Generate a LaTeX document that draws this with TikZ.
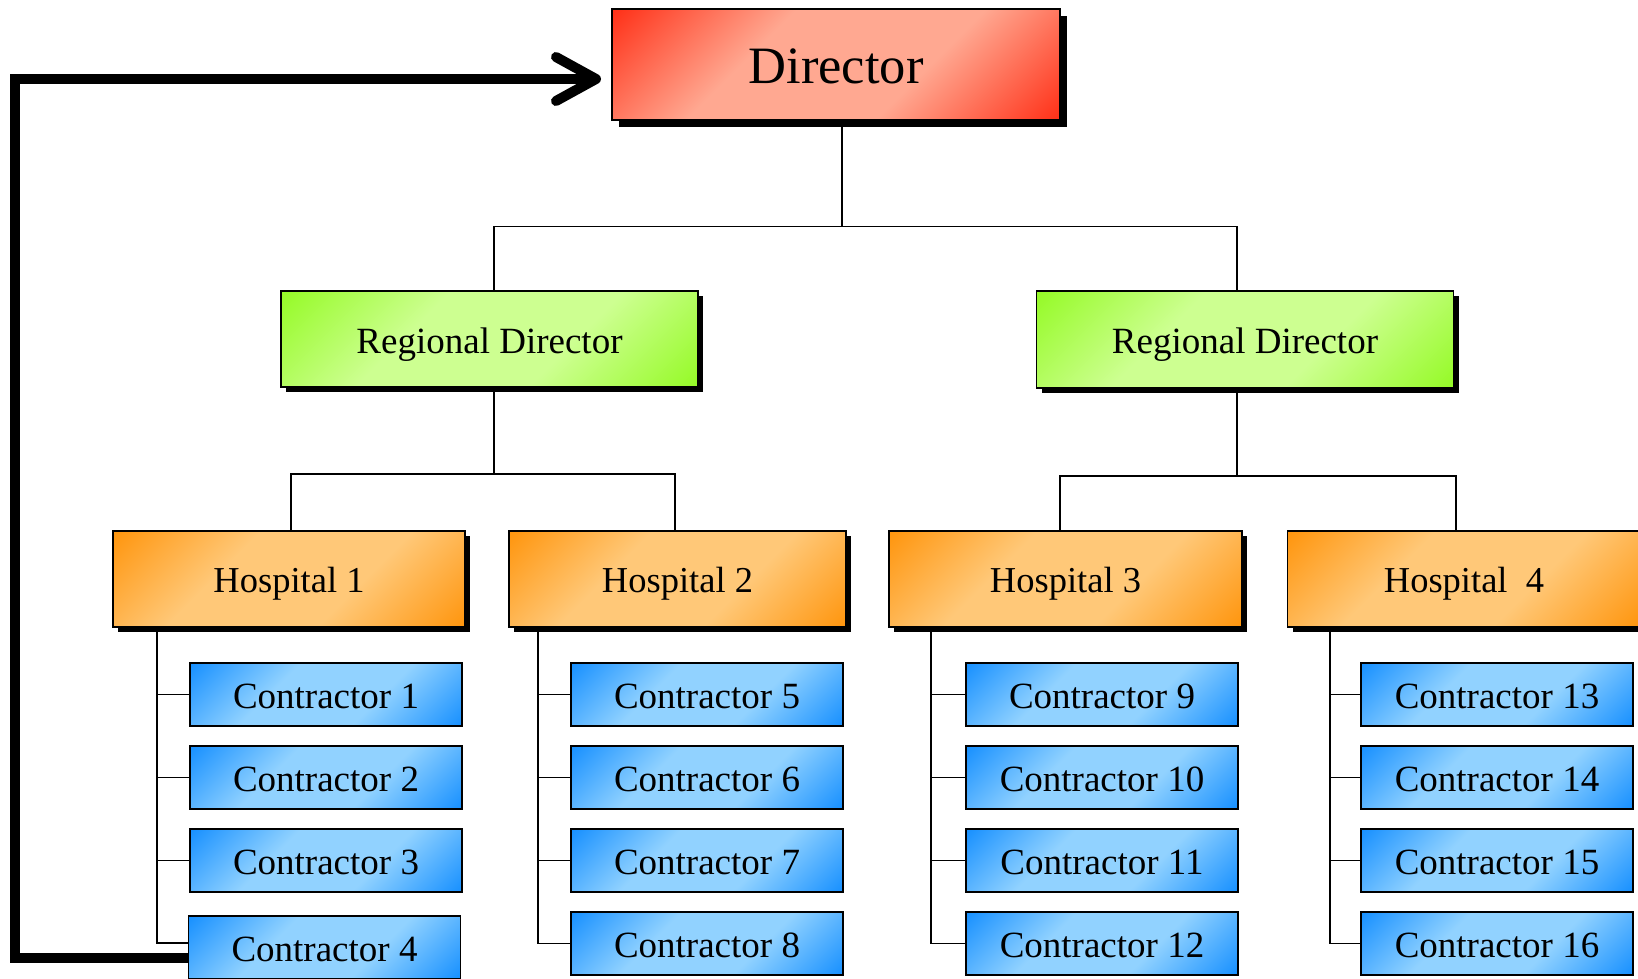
\documentclass[tikz,border=0pt]{standalone}
\usepackage{fontspec}
\setmainfont{Liberation Serif}
\usetikzlibrary{shadows,arrows.meta,calc}
\definecolor{redC}{RGB}{255,50,25}
\definecolor{redL}{RGB}{255,168,145}
\definecolor{grnC}{RGB}{150,250,40}
\definecolor{grnL}{RGB}{205,255,145}
\definecolor{orgC}{RGB}{255,150,15}
\definecolor{orgL}{RGB}{255,200,120}
\definecolor{bluC}{RGB}{25,145,255}
\definecolor{bluL}{RGB}{145,210,255}
\pgfdeclareverticalshading{redsh}{100bp}{color(0bp)=(redC); color(15bp)=(redC); color(38bp)=(redL); color(62bp)=(redL); color(85bp)=(redC); color(100bp)=(redC)}
\pgfdeclareverticalshading{grnsh}{100bp}{color(0bp)=(grnC); color(15bp)=(grnC); color(38bp)=(grnL); color(62bp)=(grnL); color(85bp)=(grnC); color(100bp)=(grnC)}
\pgfdeclareverticalshading{orgsh}{100bp}{color(0bp)=(orgC); color(15bp)=(orgC); color(38bp)=(orgL); color(62bp)=(orgL); color(85bp)=(orgC); color(100bp)=(orgC)}
\pgfdeclareverticalshading{blush}{100bp}{color(0bp)=(bluC); color(15bp)=(bluC); color(38bp)=(bluL); color(62bp)=(bluL); color(85bp)=(bluC); color(100bp)=(bluC)}
\tikzset{
  box/.style={draw=black, line width=1.5pt, inner sep=0pt, shade, shading angle=45,
    text depth=0pt},
  dshadow/.style={drop shadow={shadow xshift=#1, shadow yshift=-#1, opacity=1, fill=black}},
  dirbox/.style={box, shading=redsh, line width=2pt, minimum width=448pt, minimum height=111pt,
    font=\fontsize{52.5}{60}\selectfont, text height=39pt, dshadow=7pt},
  rdbox/.style={box, shading=grnsh, minimum width=417pt, minimum height=96pt,
    font=\fontsize{37}{42}\selectfont, text height=28.6pt, dshadow=5pt},
  hbox/.style={box, shading=orgsh, minimum height=96pt,
    font=\fontsize{36.5}{42}\selectfont, text height=27pt, dshadow=5pt},
  cbox/.style={box, shading=blush, minimum width=272pt, minimum height=63pt,
    font=\fontsize{37}{42}\selectfont, text height=27.6pt},
  conn/.style={draw=black, line width=1.7pt},
  thick arrow/.style={draw=black, line width=10pt,
    -{Straight Barb[length=40pt, width=44pt, round]}}
}
\begin{document}
\begin{tikzpicture}[x=1pt, y=-1pt]
\useasboundingbox (0,0) rectangle (1638,979);
\clip (0,0) rectangle (1638,979);
\fill[white] (0,0) rectangle (1638,979);

% Director and regional directors
\node[dirbox] (dir) at (836,64.5) {Director};
\node[rdbox] (rd1) at (489.5,339) {Regional Director};
\node[rdbox, minimum height=97pt] (rd2) at (1245,339.5) {Regional Director};

% Hospitals
\node[hbox, minimum width=352pt] (h1) at (289,579) {Hospital 1};
\node[hbox, minimum width=337pt] (h2) at (677.5,579) {Hospital 2};
\node[hbox, minimum width=353pt] (h3) at (1065.5,579) {Hospital 3};
\node[hbox, minimum width=353pt] (h4) at (1464,579) {Hospital\ \ 4};

% Contractors
\foreach \n/\x/\y in {1/326/694.5, 2/326/777.5, 3/326/860.5,
  5/707/694.5, 6/707/777.5, 7/707/860.5, 8/707/943.5,
  9/1102/694.5, 10/1102/777.5, 11/1102/860.5, 12/1102/943.5,
  13/1497/694.5, 14/1497/777.5, 15/1497/860.5, 16/1497/943.5}
  \node[cbox] (c\n) at (\x,\y) {Contractor \n};
\node[cbox] (c4) at (324.5,947.5) {Contractor 4};

% Director to regional directors
\coordinate (b0) at (842,226.5);
\draw[conn] ([xshift=6pt]dir.south) -- (b0);
\draw[conn] ([xshift=4.5pt]rd1.north) |- (b0) -| ([xshift=-8pt]rd2.north);

% Regional directors to hospitals
\coordinate (b1) at (494,474);
\draw[conn] ([xshift=4.5pt]rd1.south) -- (b1);
\draw[conn] ([xshift=2pt]h1.north) |- (b1) -| ([xshift=-2.5pt]h2.north);
\coordinate (b2) at (1237,476);
\draw[conn] ([xshift=-8pt]rd2.south) -- (b2);
\draw[conn] ([xshift=-5.5pt]h3.north) |- (b2) -| ([xshift=-8pt]h4.north);

% Hospitals to contractors
\foreach \n in {1,2,3} \draw[conn] ([xshift=45pt]h1.south west) |- (c\n.west);
\draw[conn] ([xshift=45pt]h1.south west) |- ([yshift=4.5pt]c4.west);
\foreach \n in {5,6,7,8} \draw[conn] ([xshift=30pt]h2.south west) |- (c\n.west);
\foreach \n in {9,10,11,12} \draw[conn] ([xshift=43pt]h3.south west) |- (c\n.west);
\foreach \n in {13,14,15,16} \draw[conn] ([xshift=43pt]h4.south west) |- (c\n.west);

% Feedback arrow from contractor 4 to director
\coordinate (fb) at (15,79);
\draw[thick arrow] ([yshift=-10.5pt]c4.west) -| (fb) -- ([xshift=-10pt,yshift=-14.5pt]dir.west);
\end{tikzpicture}
\end{document}
